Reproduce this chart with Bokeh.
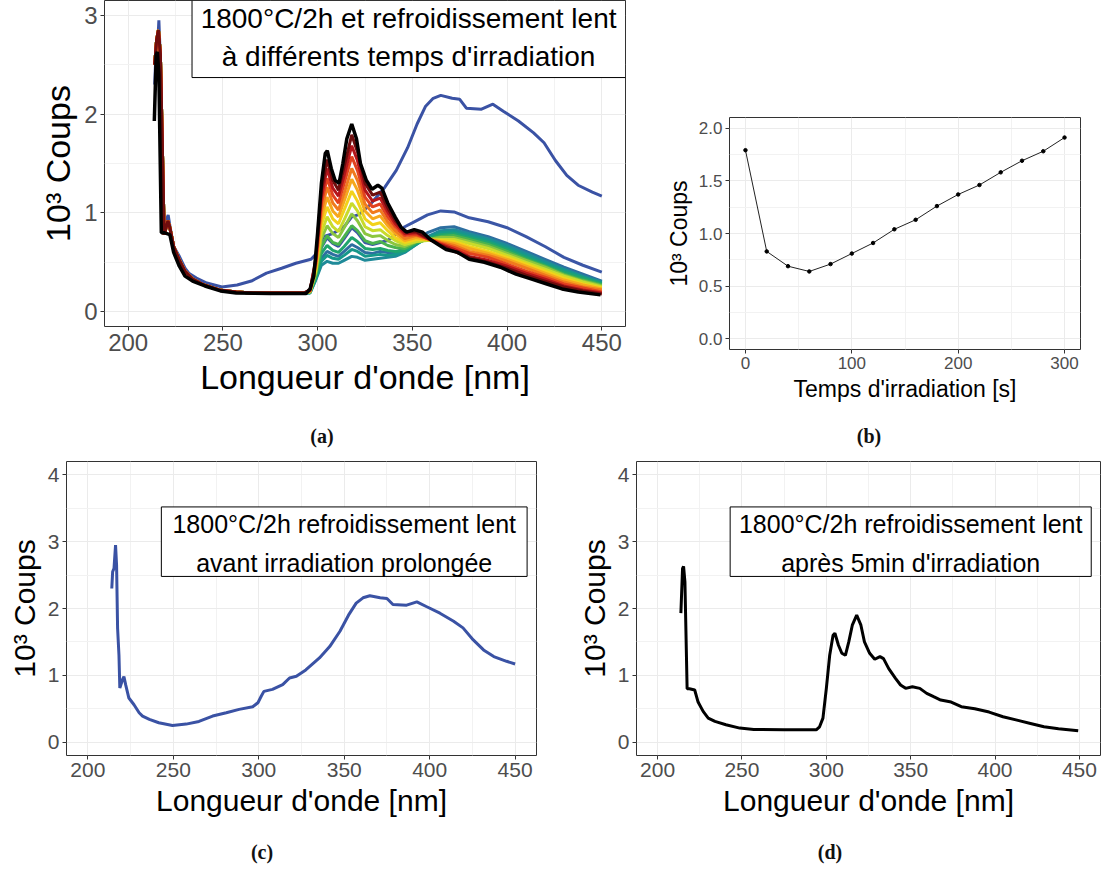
from bokeh.plotting import figure
from bokeh.models import Range1d, FixedTicker, Label, BoxAnnotation, Div, NumeralTickFormatter
from bokeh.layouts import column, row
from bokeh.embed import file_html
from bokeh.resources import INLINE

# ---------------- data ----------------
# t = 0 s : "avant irradiation prolongée"
wl_t0 = [214.0, 214.5, 215.3, 216.2, 216.8, 217.4, 218.2, 218.7, 220.2, 221.1, 222.1, 224.0, 227.0,
         230.0, 232.0, 236.0, 241.5, 249.5, 257.5, 265.0, 273.0, 281.0, 288.5, 296.5, 299.5, 301.5,
         303.0, 308.0, 314.0, 318.0, 322.0, 327.5, 335.5, 341.5, 347.5, 352.5, 357.0, 361.0, 365.0,
         371.0, 375.0, 378.5, 386.5, 392.5, 398.0, 406.0, 414.0, 419.5, 425.5, 431.5, 437.5, 445.0, 450.0]
counts_t0 = [2.30, 2.55, 2.60, 2.95, 2.65, 1.70, 1.30, 0.81, 0.93, 0.98, 0.86, 0.66, 0.56,
             0.44, 0.39, 0.34, 0.29, 0.25, 0.27, 0.31, 0.39, 0.44, 0.49, 0.53, 0.59, 0.69,
             0.76, 0.79, 0.86, 0.96, 0.985, 1.08, 1.26, 1.43, 1.66, 1.90, 2.08, 2.16, 2.19,
             2.16, 2.15, 2.06, 2.05, 2.10, 2.03, 1.93, 1.81, 1.71, 1.53, 1.38, 1.28, 1.21, 1.17]

# t = 300 s : "après 5min d'irradiation"
wl_t300 = [213.8, 214.8, 215.4, 216.2, 217.5, 218.9, 222.0, 224.0, 227.0, 230.0, 234.0, 240.5, 248.7,
           257.0, 275.0, 294.0, 296.0, 298.0, 300.0, 302.0, 304.0, 305.1, 307.2, 309.2, 311.3, 313.3,
           315.4, 318.0, 320.5, 322.6, 325.7, 328.7, 331.8, 333.9, 337.0, 341.0, 344.0, 347.0, 351.0,
           355.4, 359.5, 363.6, 367.8, 374.0, 380.0, 388.0, 396.5, 404.7, 413.0, 421.0, 429.0, 437.6, 449.3]
counts_t300 = [1.93, 2.60, 2.63, 2.40, 0.80, 0.80, 0.78, 0.60, 0.46, 0.36, 0.31, 0.26, 0.21,
               0.19, 0.185, 0.185, 0.23, 0.36, 0.80, 1.30, 1.60, 1.63, 1.45, 1.33, 1.30, 1.50,
               1.75, 1.90, 1.75, 1.50, 1.33, 1.24, 1.28, 1.25, 1.10, 0.955, 0.855, 0.805, 0.83,
               0.805, 0.73, 0.68, 0.63, 0.60, 0.53, 0.50, 0.45, 0.38, 0.33, 0.28, 0.23, 0.20, 0.17]

# intermediate irradiation times: shared UV edge (curves overlap there) + visible part
wl_uv = [214, 215, 216, 217, 218, 219, 220, 221, 222, 224, 227, 230, 234, 240, 248, 257, 266, 275, 285, 293]
counts_uv = [2.50, 2.75, 2.85, 2.60, 1.70, 0.78, 0.85, 0.92, 0.85, 0.66, 0.52, 0.41, 0.33, 0.27, 0.22,
             0.20, 0.19, 0.19, 0.19, 0.19]
wl_vis = [296, 299, 302, 305, 308, 311, 314, 318, 321, 325, 329, 333, 337, 341, 346, 352, 358, 365,
          372, 380, 390, 400, 410, 420, 430, 440, 450]
counts_t20 = [0.20, 0.37, 0.65, 0.75, 0.69, 0.66, 0.74, 0.85, 0.80, 0.70, 0.68, 0.70, 0.72, 0.78, 0.86,
              0.92, 0.98, 1.02, 1.01, 0.95, 0.91, 0.85, 0.76, 0.66, 0.55, 0.47, 0.40]
counts_t40 = [0.20, 0.34, 0.54, 0.61, 0.58, 0.56, 0.61, 0.68, 0.65, 0.60, 0.59, 0.61, 0.60, 0.60, 0.64,
              0.72, 0.80, 0.85, 0.86, 0.81, 0.76, 0.69, 0.61, 0.53, 0.45, 0.38, 0.31]
counts_t60 = [0.19, 0.32, 0.47, 0.51, 0.49, 0.49, 0.52, 0.56, 0.55, 0.52, 0.53, 0.54, 0.55, 0.56, 0.60,
              0.68, 0.76, 0.82, 0.83, 0.79, 0.74, 0.67, 0.59, 0.51, 0.43, 0.36, 0.30]
counts_t80 = [0.19, 0.33, 0.51, 0.57, 0.54, 0.53, 0.57, 0.63, 0.61, 0.56, 0.57, 0.58, 0.57, 0.58, 0.61,
              0.68, 0.75, 0.80, 0.81, 0.77, 0.72, 0.65, 0.57, 0.49, 0.42, 0.35, 0.29]
counts_t100 = [0.20, 0.35, 0.59, 0.67, 0.62, 0.60, 0.66, 0.75, 0.71, 0.64, 0.63, 0.64, 0.62, 0.61, 0.62,
               0.69, 0.74, 0.78, 0.79, 0.75, 0.70, 0.63, 0.55, 0.47, 0.40, 0.34, 0.28]
counts_t120 = [0.20, 0.37, 0.66, 0.77, 0.70, 0.68, 0.76, 0.87, 0.82, 0.72, 0.69, 0.71, 0.67, 0.65, 0.64,
               0.70, 0.73, 0.76, 0.77, 0.73, 0.68, 0.61, 0.53, 0.46, 0.38, 0.32, 0.27]
counts_t140 = [0.20, 0.39, 0.74, 0.87, 0.79, 0.75, 0.85, 0.99, 0.92, 0.79, 0.76, 0.77, 0.72, 0.68, 0.66,
               0.71, 0.73, 0.75, 0.75, 0.71, 0.66, 0.59, 0.52, 0.45, 0.37, 0.31, 0.26]
counts_t160 = [0.20, 0.41, 0.80, 0.96, 0.86, 0.81, 0.93, 1.10, 1.02, 0.86, 0.82, 0.83, 0.77, 0.72, 0.68,
               0.71, 0.72, 0.73, 0.73, 0.69, 0.64, 0.57, 0.50, 0.43, 0.36, 0.30, 0.25]
counts_t180 = [0.21, 0.43, 0.88, 1.06, 0.94, 0.89, 1.03, 1.22, 1.12, 0.94, 0.88, 0.90, 0.82, 0.75, 0.70,
               0.73, 0.73, 0.72, 0.71, 0.66, 0.61, 0.55, 0.48, 0.41, 0.34, 0.28, 0.24]
counts_t200 = [0.21, 0.45, 0.95, 1.16, 1.02, 0.96, 1.12, 1.34, 1.23, 1.02, 0.94, 0.97, 0.87, 0.79, 0.72,
               0.75, 0.73, 0.71, 0.69, 0.64, 0.59, 0.53, 0.46, 0.39, 0.32, 0.27, 0.23]
counts_t220 = [0.21, 0.47, 1.02, 1.26, 1.10, 1.03, 1.20, 1.45, 1.33, 1.09, 1.00, 1.03, 0.91, 0.82, 0.74,
               0.77, 0.74, 0.70, 0.67, 0.61, 0.57, 0.51, 0.44, 0.37, 0.30, 0.25, 0.22]
counts_t240 = [0.21, 0.49, 1.10, 1.35, 1.18, 1.10, 1.30, 1.57, 1.43, 1.16, 1.06, 1.09, 0.96, 0.86, 0.77,
               0.78, 0.74, 0.69, 0.65, 0.59, 0.55, 0.48, 0.41, 0.35, 0.28, 0.24, 0.20]
counts_t260 = [0.22, 0.51, 1.16, 1.45, 1.25, 1.17, 1.38, 1.68, 1.53, 1.23, 1.12, 1.15, 1.01, 0.89, 0.79,
               0.80, 0.74, 0.68, 0.63, 0.56, 0.52, 0.46, 0.39, 0.33, 0.26, 0.22, 0.19]
counts_t280 = [0.22, 0.53, 1.23, 1.54, 1.33, 1.23, 1.47, 1.79, 1.62, 1.30, 1.18, 1.21, 1.05, 0.92, 0.81,
               0.81, 0.75, 0.67, 0.61, 0.55, 0.50, 0.44, 0.37, 0.31, 0.25, 0.21, 0.18]

# panel (b)
time_s = [0, 20, 40, 60, 80, 100, 120, 140, 160, 180, 200, 220, 240, 260, 280, 300]
counts_b = [1.79, 0.83, 0.69, 0.64, 0.71, 0.81, 0.91, 1.04, 1.13, 1.26, 1.37, 1.46, 1.58, 1.69, 1.78, 1.91]

x_ticks_nm = [200, 250, 300, 350, 400, 450]
x_minor_nm = [225, 275, 325, 375, 425]

mid_counts = [counts_t20, counts_t40, counts_t60, counts_t80, counts_t100, counts_t120, counts_t140,
              counts_t160, counts_t180, counts_t200, counts_t220, counts_t240, counts_t260, counts_t280]
mid_colors = ["#3B56A6", "#2E6FA0", "#1F8A99", "#16988A", "#1FA56E", "#4AB34E", "#8CC63F",
              "#C9DB2B", "#F2D21B", "#F6A81D", "#F07A1E", "#E2421F", "#B5161B", "#6E0D0D"]
BLUE = "#3A52A4"
FONT = "Liberation Sans"


def make_fig(width, height, left, right, top, bottom, xr, yr, xt, xm, yt, ym, tick_px, lab_px):
    p = figure(width=width, height=height, x_range=Range1d(*xr), y_range=Range1d(*yr),
               output_backend="svg", toolbar_location=None, frame_align=False, margin=0,
               min_border_left=left, min_border_right=right,
               min_border_top=top, min_border_bottom=bottom)
    p.background_fill_color = "white"
    p.border_fill_color = "white"
    p.outline_line_color = "#333333"
    p.outline_line_width = 1
    xtk = FixedTicker(ticks=xt, minor_ticks=xm)
    ytk = FixedTicker(ticks=yt, minor_ticks=ym)
    p.xaxis.ticker = xtk
    p.yaxis.ticker = ytk
    p.xgrid.ticker = xtk
    p.ygrid.ticker = ytk
    for g in (p.xgrid, p.ygrid):
        g.grid_line_color = "#EBEBEB"
        g.grid_line_width = 1
        g.minor_grid_line_color = "#F2F2F2"
        g.minor_grid_line_width = 1
    for ax in (p.xaxis, p.yaxis):
        ax.axis_line_color = None
        ax.major_tick_line_color = "#333333"
        ax.major_tick_out = 4
        ax.major_tick_in = 0
        ax.minor_tick_line_color = None
        ax.major_label_text_font = FONT
        ax.major_label_text_font_size = f"{tick_px}px"
        ax.major_label_text_color = "#4D4D4D"
        ax.major_label_standoff = 3
        ax.axis_label_text_font = FONT
        ax.axis_label_text_font_size = f"{lab_px}px"
        ax.axis_label_text_font_style = "normal"
        ax.axis_label_text_color = "black"
        ax.axis_label_standoff = 4
    return p


def add_box(p, left, right, top, bottom, xc, y1, y2, l1, l2, fs):
    p.add_layout(BoxAnnotation(left=left, right=right, top=top, bottom=bottom,
                               fill_color="white", fill_alpha=1.0,
                               line_color="black", line_alpha=1.0, line_width=1,
                               level="annotation"))
    for yy, tt in ((y1, l1), (y2, l2)):
        p.add_layout(Label(x=xc, y=yy, text=tt, text_align="center", text_baseline="middle",
                           text_font=FONT, text_font_size=f"{fs}px", text_color="black"))


# ---------------- panel (a) ----------------
pa = make_fig(652, 412, 104, 27, 0, 86, (187.5, 462.5), (-0.15, 3.15),
              x_ticks_nm, x_minor_nm, [0, 1, 2, 3], [0.5, 1.5, 2.5], 24, 34)
pa.xaxis.axis_label = "Longueur d'onde [nm]"
pa.yaxis.axis_label = "10³ Coups"
pa.line(wl_t0, counts_t0, line_color=BLUE, line_width=3)
for cts, col in zip(mid_counts, mid_colors):
    pa.line(wl_uv + wl_vis, counts_uv + cts, line_color=col, line_width=3)
pa.line(wl_t300, counts_t300, line_color="black", line_width=3.5)
add_box(pa, 233.7, 462.5, 3.15, 2.37, 348, 2.97, 2.58,
        "1800°C/2h et refroidissement lent", "à différents temps d'irradiation", 28)

# ---------------- panel (b) ----------------
pb = make_fig(451, 412, 77, 23, 117, 63, (-15, 315), (-0.1, 2.1),
              [0, 100, 200, 300], [50, 150, 250], [0, 0.5, 1.0, 1.5, 2.0],
              [0.25, 0.75, 1.25, 1.75], 17, 23)
pb.yaxis.formatter = NumeralTickFormatter(format="0.0")
pb.xaxis.axis_label = "Temps d'irradiation [s]"
pb.yaxis.axis_label = "10³ Coups"
pb.line(time_s, counts_b, line_color="#222222", line_width=1)
pb.scatter(time_s, counts_b, size=3.5, color="black")

# ---------------- panel (c) ----------------
pc = make_fig(564, 380, 66, 28, 6, 80, (187.5, 462.5), (-0.2, 4.2),
              x_ticks_nm, x_minor_nm, [0, 1, 2, 3, 4], [0.5, 1.5, 2.5, 3.5], 21, 30)
pc.xaxis.axis_label = "Longueur d'onde [nm]"
pc.yaxis.axis_label = "10³ Coups"
pc.line(wl_t0, counts_t0, line_color=BLUE, line_width=3)
add_box(pc, 243, 457, 3.52, 2.48, 350, 3.26, 2.68,
        "1800°C/2h refroidissement lent", "avant irradiation prolongée", 25)

# ---------------- panel (d) ----------------
pd = make_fig(539, 380, 72, 3, 6, 80, (187.5, 462.5), (-0.2, 4.2),
              x_ticks_nm, x_minor_nm, [0, 1, 2, 3, 4], [0.5, 1.5, 2.5, 3.5], 21, 30)
pd.xaxis.axis_label = "Longueur d'onde [nm]"
pd.yaxis.axis_label = "10³ Coups"
pd.line(wl_t300, counts_t300, line_color="black", line_width=3)
add_box(pd, 243, 457, 3.52, 2.48, 350, 3.26, 2.68,
        "1800°C/2h refroidissement lent", "après 5min d'irradiation", 25)

# ---------------- captions ----------------
cap_style = ("position:relative;width:1100px;font-family:'Liberation Serif',serif;"
             "font-weight:bold;font-size:20px;color:#111;")
span = "position:absolute;transform:translateX(-50%);white-space:nowrap;"
cap1 = Div(text=(f'<div style="{cap_style}height:43px;">'
                 f'<span style="{span}left:322px;top:10px;">(a)</span>'
                 f'<span style="{span}left:869px;top:10px;">(b)</span></div>'),
           width=1100, height=43, margin=0)
cap2 = Div(text=(f'<div style="{cap_style}height:24px;">'
                 f'<span style="{span}left:262px;top:3px;">(c)</span>'
                 f'<span style="{span}left:830px;top:3px;">(d)</span></div>'),
           width=1100, height=24, margin=0)

layout = column(row(pa, pb, margin=0), cap1, row(pc, pd, margin=0), cap2, margin=0)
open("out.html", "w").write(file_html(layout, INLINE))
